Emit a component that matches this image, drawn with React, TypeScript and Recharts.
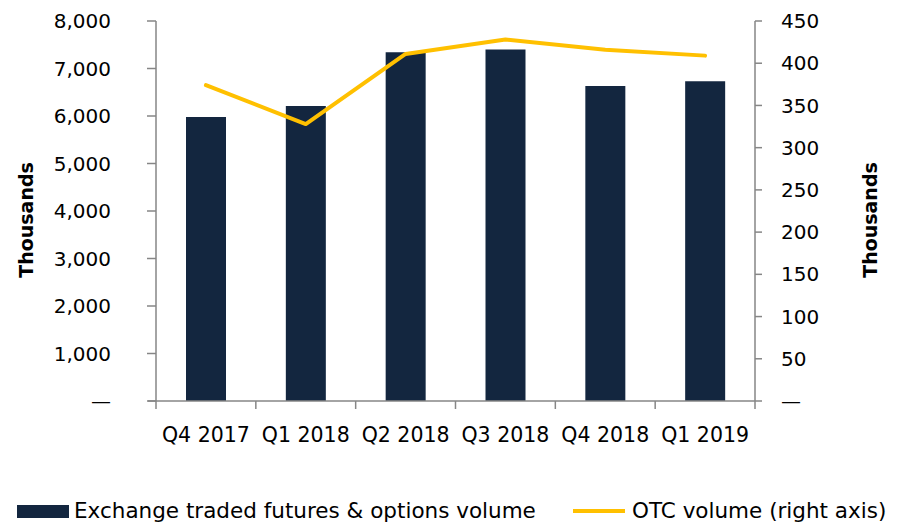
import { ComposedChart, Bar, Line, XAxis, YAxis } from "recharts";

const quarters = ["Q4 2017", "Q1 2018", "Q2 2018", "Q3 2018", "Q4 2018", "Q1 2019"];
const exchangeVolume = [5980, 6210, 7340, 7400, 6630, 6730];
const otcVolume = [374, 328, 411, 428, 416, 409];
const leftTicks = [0, 1000, 2000, 3000, 4000, 5000, 6000, 7000, 8000];
const rightTicks = [0, 50, 100, 150, 200, 250, 300, 350, 400, 450];

const data = quarters.map((q, i) => ({
  quarter: q,
  exchange: exchangeVolume[i],
  otc: otcVolume[i],
}));

const FONT = "'DejaVu Sans', sans-serif";
const AXIS = "#868686";
const NAVY = "#13263f";
const GOLD = "#ffc000";

const fmt = (v: number) => (v === 0 ? "\u2014" : v.toLocaleString("en-US"));

function QuarterTick(props: any) {
  const { x, y, payload, index, visibleTicksCount, width } = props;
  const half =
    payload?.offset || (width && visibleTicksCount ? width / visibleTicksCount / 2 : 50);
  const axisY = y - 26;
  return (
    <g>
      <line x1={x - half} x2={x - half} y1={axisY} y2={axisY + 8} stroke={AXIS} strokeWidth={1.5} />
      {index === 0 && (
        <line x1={x - half - 8} x2={x - half} y1={axisY} y2={axisY} stroke={AXIS} strokeWidth={1.5} />
      )}
      {index === visibleTicksCount - 1 && (
        <line x1={x + half} x2={x + half} y1={axisY} y2={axisY + 8} stroke={AXIS} strokeWidth={1.5} />
      )}
      <text x={x} y={y} dy="0.71em" textAnchor="middle" fill="#000" fontSize={20.5} fontFamily={FONT}>
        {payload.value}
      </text>
    </g>
  );
}

function AxisTitle({ px, py }: any) {
  return (
    <text
      x={px}
      y={py}
      transform={`rotate(-90 ${px} ${py})`}
      textAnchor="middle"
      dominantBaseline="central"
      fontWeight="bold"
      fontSize={19}
      fontFamily={FONT}
      fill="#000"
    >
      Thousands
    </text>
  );
}

export default function App() {
  return (
    <div style={{ position: "absolute", left: 0, top: 0, width: 899, height: 524, background: "#fff" }}>
      <ComposedChart
        width={899}
        height={524}
        data={data}
        margin={{ top: 21, right: 0, bottom: 0, left: 0 }}
        barSize={40}
      >
        <XAxis
          dataKey="quarter"
          height={123}
          interval={0}
          tickLine={false}
          tickSize={8}
          tickMargin={18}
          axisLine={{ stroke: AXIS, strokeWidth: 1.5 }}
          tick={<QuarterTick />}
        />
        <YAxis
          yAxisId="left"
          width={156}
          domain={[0, 8000]}
          ticks={leftTicks}
          interval={0}
          tickFormatter={fmt}
          tickSize={9}
          tickMargin={36}
          axisLine={{ stroke: AXIS, strokeWidth: 1.5 }}
          tickLine={{ stroke: AXIS, strokeWidth: 1.5 }}
          tick={{ fill: "#000", fontSize: 20, fontFamily: FONT }}
          label={<AxisTitle px={26} py={220} />}
        />
        <YAxis
          yAxisId="right"
          orientation="right"
          width={144}
          domain={[0, 450]}
          ticks={rightTicks}
          interval={0}
          tickFormatter={fmt}
          tickSize={7}
          tickMargin={19}
          axisLine={{ stroke: AXIS, strokeWidth: 1.5 }}
          tickLine={{ stroke: AXIS, strokeWidth: 1.5 }}
          tick={{ fill: "#000", fontSize: 20, fontFamily: FONT }}
          label={<AxisTitle px={870} py={220} />}
        />
        <Bar
          yAxisId="left"
          dataKey="exchange"
          name="Exchange traded futures & options volume"
          fill={NAVY}
          isAnimationActive={false}
        />
        <Line
          yAxisId="right"
          dataKey="otc"
          name="OTC volume (right axis)"
          stroke={GOLD}
          strokeWidth={4}
          strokeLinecap="round"
          strokeLinejoin="round"
          type="linear"
          dot={false}
          activeDot={false}
          isAnimationActive={false}
        />
      </ComposedChart>
      <div
        style={{
          position: "absolute",
          top: 498,
          left: 17,
          display: "flex",
          alignItems: "center",
          fontFamily: FONT,
          fontSize: 21.5,
          color: "#000",
          whiteSpace: "nowrap",
          lineHeight: "26px",
        }}
      >
        <span style={{ display: "inline-block", width: 52, height: 13, background: NAVY, marginRight: 5 }} />
        <span style={{ width: 499 }}>Exchange traded futures &amp; options volume</span>
        <span style={{ display: "inline-block", width: 52, height: 4, background: GOLD, marginRight: 7 }} />
        <span>OTC volume (right axis)</span>
      </div>
    </div>
  );
}
